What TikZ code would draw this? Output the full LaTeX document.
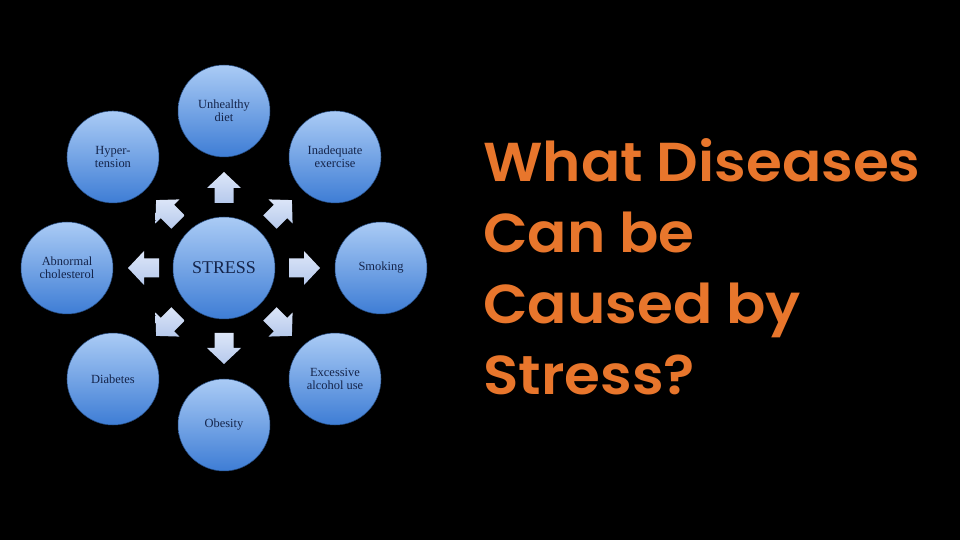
\documentclass[tikz,border=0pt]{standalone}
\usepackage{fontspec}
\setmainfont{Liberation Serif}
\newfontfamily\titlefont{Poppins SemiBold}[FakeStretch=1.06]
\usetikzlibrary{positioning}

\definecolor{bubbletop}{HTML}{AACBF5}
\definecolor{bubblebot}{HTML}{3E7DD5}
\definecolor{labelnavy}{HTML}{14244A}
\definecolor{arrowtop}{HTML}{DCE6F8}
\definecolor{arrowbot}{HTML}{B6C9EC}
\definecolor{titleorange}{HTML}{E8762C}

\tikzset{
    bubble/.style={circle, minimum size=92bp, inner sep=0pt, top color=bubbletop,
        bottom color=bubblebot, draw=bubblebot!60!black, line width=0.5bp,
        text=labelnavy, align=center, font=\fontsize{12.5}{13}\selectfont},
    hub/.style={bubble, minimum size=102bp, font=\fontsize{18}{20}\selectfont},
    blockarrow/.style={top color=arrowtop, bottom color=arrowbot},
    title/.style={text=titleorange, align=left, inner sep=0pt,
        font=\titlefont\fontsize{55}{71.5}\selectfont}
}

\begin{document}
\begin{tikzpicture}[x=1bp,y=1bp]
    \fill[black] (0,0) rectangle (960,540);

    \begin{scope}[shift={(224,272)}]
        \node[hub] (stress) at (0,0) {STRESS};
        \node[bubble] (diet) at (90:157) {Unhealthy\\diet};
        \node[bubble] (exercise) at (45:157) {Inadequate\\exercise};
        \node[bubble] (smoking) at (0:157) {Smoking};
        \node[bubble] (alcohol) at (-45:157) {Excessive\\alcohol use};
        \node[bubble] (obesity) at (-90:157) {Obesity};
        \node[bubble] (diabetes) at (-135:157) {Diabetes};
        \node[bubble] (cholesterol) at (180:157) {Abnormal\\cholesterol};
        \node[bubble] (hypertension) at (135:157) {Hyper-\\tension};

        \foreach \a in {0,45,...,315}
            \fill[blockarrow, rotate=\a] (65,-9.5) -- (80,-9.5) -- (80,-17) -- (96,0)
                -- (80,17) -- (80,9.5) -- (65,9.5) -- cycle;
    \end{scope}

    \node[title, anchor=north west] (question) at (483,402)
        {What Diseases\\Can be\\Caused by\\Stress?};
\end{tikzpicture}
\end{document}
